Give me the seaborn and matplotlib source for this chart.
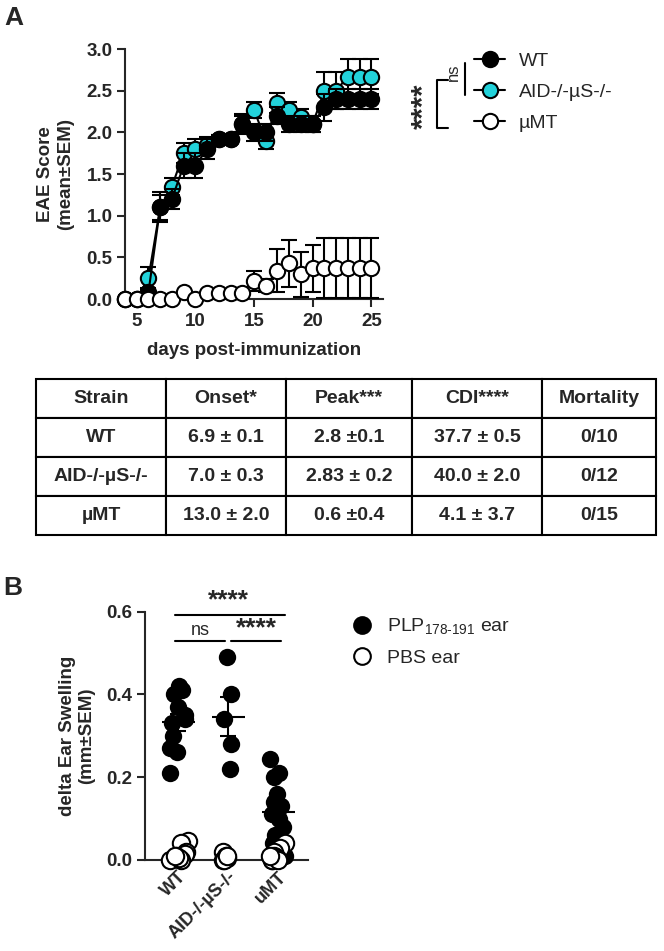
import numpy as np
import pandas as pd
import matplotlib
matplotlib.use("Agg")
import matplotlib.pyplot as plt
from matplotlib.lines import Line2D
from matplotlib.ticker import FormatStrFormatter
import seaborn as sns

# ---- Panel A data: EAE score (mean, SEM) per day ----
days = list(range(4, 26))
wt_mean = [0, 0, 0.08, 1.1, 1.2, 1.6, 1.6, 1.8, 1.92, 1.92, 2.1, 2.0, 2.0, 2.2, 2.1, 2.1, 2.1, 2.3, 2.4, 2.4, 2.4, 2.4]
wt_sem = [0, 0, 0.05, 0.18, 0.12, 0.15, 0.15, 0.12, 0.05, 0.05, 0.1, 0.1, 0.1, 0.1, 0.1, 0.1, 0.1, 0.16, 0.12, 0.12, 0.12, 0.12]
aid_mean = [0, 0, 0.25, 1.1, 1.35, 1.75, 1.8, 1.85, 1.92, 1.92, 2.1, 2.27, 1.9, 2.35, 2.27, 2.18, 2.1, 2.5, 2.5, 2.67, 2.67, 2.67]
aid_sem = [0, 0, 0.13, 0.15, 0.1, 0.12, 0.12, 0.1, 0.05, 0.05, 0.12, 0.1, 0.1, 0.12, 0.1, 0.1, 0.1, 0.22, 0.22, 0.21, 0.21, 0.21]
umt_mean = [0, 0, 0, 0, 0, 0.08, 0, 0.07, 0.07, 0.07, 0.07, 0.22, 0.16, 0.34, 0.43, 0.3, 0.37, 0.37, 0.37, 0.37, 0.37, 0.37]
umt_sem = [0, 0, 0, 0, 0, 0, 0, 0, 0, 0, 0, 0.12, 0.08, 0.26, 0.28, 0.27, 0.28, 0.36, 0.36, 0.36, 0.36, 0.36]

# ---- Table ----
table_cols = ["Strain", "Onset*", "Peak***", "CDI****", "Mortality"]
table_rows = [
    ["WT", "6.9 \u00b1 0.1", "2.8 \u00b10.1", "37.7 \u00b1 0.5", "0/10"],
    ["AID-/-\u00b5S-/-", "7.0 \u00b1 0.3", "2.83 \u00b1 0.2", "40.0 \u00b1 2.0", "0/12"],
    ["\u00b5MT", "13.0 \u00b1 2.0", "0.6 \u00b10.4", "4.1 \u00b1 3.7", "0/15"],
]

# ---- Panel B data: delta ear swelling ----
groups_b = ["WT", "AID-/-\u00b5S-/-", "uMT"]
plp_wt = [0.42, 0.41, 0.40, 0.37, 0.35, 0.34, 0.33, 0.30, 0.27, 0.26, 0.21]
plp_aid = [0.49, 0.40, 0.34, 0.28, 0.22]
plp_umt = [0.245, 0.21, 0.20, 0.16, 0.14, 0.13, 0.12, 0.11, 0.10, 0.08, 0.06, 0.04, 0.02, 0.01]
pbs_wt = [0.045, 0.04, 0.02, 0.015, 0.01, 0.0, 0.0, 0.005, 0.01]
pbs_aid = [0.02, 0.01, 0.005, 0.0, 0.0, 0.01]
pbs_umt = [0.04, 0.03, 0.02, 0.01, 0.005, 0.0, 0.0, 0.0, 0.01]

CYAN = "#22D2DA"
W, H = 664, 951

sns.set_style("ticks")
plt.rcParams["font.family"] = ["Liberation Sans", "DejaVu Sans"]
plt.rcParams["mathtext.fontset"] = "custom"
plt.rcParams["mathtext.rm"] = "Liberation Sans"
plt.rcParams["axes.linewidth"] = 1.5
plt.rcParams["xtick.major.width"] = 1.5
plt.rcParams["ytick.major.width"] = 1.5
plt.rcParams["xtick.major.size"] = 6
plt.rcParams["ytick.major.size"] = 6
plt.rcParams["xtick.major.pad"] = 4
plt.rcParams["ytick.major.pad"] = 3

fig = plt.figure(figsize=(W / 100, H / 100), dpi=100)


def fpos(x, y):
    return x / W, 1 - y / H


def fig_line(xs, ys, lw=1.5):
    fx = [x / W for x in xs]
    fy = [1 - y / H for y in ys]
    fig.add_artist(Line2D(fx, fy, transform=fig.transFigure, color="black", lw=lw))


# ================= Panel A =================
axA = fig.add_axes([125 / W, 1 - 299 / H, 258 / W, 250 / H])
d = np.array(days)
series = [
    ("AID-/-\u00b5S-/-", aid_mean, aid_sem, CYAN, 2),
    ("WT", wt_mean, wt_sem, "black", 3),
    ("\u00b5MT", umt_mean, umt_sem, "white", 4),
]
handles = {}
for name, m, s, fc, z in series:
    m = np.array(m)
    s = np.array(s)
    msk = s > 0
    axA.errorbar(d[msk], m[msk], yerr=s[msk], fmt="none", ecolor="black",
                 elinewidth=1.5, capsize=6, capthick=1.5, zorder=z, clip_on=False)
    (ln,) = axA.plot(d, m, "-o", color="black", lw=1.5, markersize=11,
                     markerfacecolor=fc, markeredgecolor="black", markeredgewidth=1.5,
                     zorder=z + 0.5, clip_on=False, label=name)
    handles[name] = ln

axA.set_xlim(4, 26)
axA.set_ylim(0, 3.0)
axA.set_xticks([5, 10, 15, 20, 25])
axA.set_yticks(np.arange(0, 3.01, 0.5))
axA.yaxis.set_major_formatter(FormatStrFormatter("%.1f"))
axA.tick_params(labelsize=13.5)
for t in axA.get_xticklabels() + axA.get_yticklabels():
    t.set_fontweight("bold")
axA.set_xlabel("days post-immunization", fontsize=13.5, fontweight="bold", labelpad=9)
axA.set_ylabel("EAE Score\n(mean\u00b1SEM)", fontsize=13.5, fontweight="bold", labelpad=9)
sns.despine(ax=axA)

leg_order = ["WT", "AID-/-\u00b5S-/-", "\u00b5MT"]
axA.legend([handles[k] for k in leg_order], leg_order, loc="upper left",
           bbox_to_anchor=fpos(474, 52), bbox_transform=fig.transFigure,
           frameon=False, fontsize=14, handlelength=1.6, handletextpad=0.7,
           labelspacing=0.7, borderpad=0, borderaxespad=0)

# significance marks
fig.text(*fpos(424, 106), "****", rotation=90, ha="center", va="center",
         fontsize=21, fontweight="bold")
fig_line([448, 437, 437, 448], [80, 80, 128, 128])
fig.text(*fpos(453, 72), "ns", rotation=90, ha="center", va="center", fontsize=12)
fig_line([465, 465], [63, 95])

fig.text(*fpos(4, 6), "A", fontsize=19, fontweight="bold", va="top", ha="left")

# ================= Table =================
axT = fig.add_axes([36 / W, 1 - 535 / H, 620 / W, 156 / H])
axT.axis("off")
widths = np.array([130, 120, 126, 130, 114], dtype=float)
tbl = axT.table(cellText=table_rows, colLabels=table_cols, cellLoc="center",
                colWidths=list(widths / widths.sum()), bbox=[0, 0, 1, 1])
tbl.auto_set_font_size(False)
tbl.set_fontsize(14)
for cell in tbl.get_celld().values():
    cell.set_linewidth(1.5)
    cell.get_text().set_fontweight("bold")

# ================= Panel B =================
axB = fig.add_axes([145 / W, 1 - 860 / H, 163 / W, 248.3 / H])
plp = pd.DataFrame({
    "group": ["WT"] * len(plp_wt) + [groups_b[1]] * len(plp_aid) + ["uMT"] * len(plp_umt),
    "swelling": plp_wt + plp_aid + plp_umt,
})
pbs = pd.DataFrame({
    "group": ["WT"] * len(pbs_wt) + [groups_b[1]] * len(pbs_aid) + ["uMT"] * len(pbs_umt),
    "swelling": pbs_wt + pbs_aid + pbs_umt,
})
np.random.seed(3)
sns.stripplot(data=plp, x="group", y="swelling", order=groups_b, color="black",
              size=12.5, jitter=0.17, ax=axB, clip_on=False, zorder=3)
sns.stripplot(data=pbs, x="group", y="swelling", order=groups_b, color="white",
              edgecolor="black", linewidth=1.5, size=12.5, jitter=0.2, ax=axB,
              clip_on=False, zorder=4)

stats = plp.groupby("group")["swelling"].agg(["mean", "sem"]).reindex(groups_b)
xs = np.arange(len(groups_b))
axB.hlines(stats["mean"], xs - 0.33, xs + 0.33, color="black", lw=1.5, zorder=5)
axB.errorbar(xs, stats["mean"], yerr=stats["sem"], fmt="none", ecolor="black",
             elinewidth=1.5, capsize=6, capthick=1.5, zorder=5)

axB.set_xlim(-0.66, 2.6)
axB.set_ylim(0, 0.6)
axB.set_yticks([0, 0.2, 0.4, 0.6])
axB.yaxis.set_major_formatter(FormatStrFormatter("%.1f"))
axB.set_xlabel("")
axB.set_ylabel("delta Ear Swelling\n(mm\u00b1SEM)", fontsize=13.5, fontweight="bold", labelpad=8)
axB.tick_params(labelsize=13.5)
axB.tick_params(axis="x", length=0, pad=6, labelsize=13)
for t in axB.get_yticklabels():
    t.set_fontweight("bold")
for t in axB.get_xticklabels():
    t.set_fontweight("bold")
    t.set_rotation(45)
    t.set_ha("right")
    t.set_rotation_mode("anchor")
sns.despine(ax=axB)

# significance bars
axB.plot([-0.06, 2.14], [0.593, 0.593], color="black", lw=1.5, clip_on=False)
axB.text(1.0, 0.598, "****", ha="center", va="bottom", fontsize=19, fontweight="bold")
axB.plot([-0.06, 0.94], [0.528, 0.528], color="black", lw=1.5, clip_on=False)
axB.text(0.44, 0.535, "ns", ha="center", va="bottom", fontsize=13)
axB.plot([1.06, 2.06], [0.528, 0.528], color="black", lw=1.5, clip_on=False)
axB.text(1.56, 0.532, "****", ha="center", va="bottom", fontsize=19, fontweight="bold")

legB = [
    Line2D([], [], ls="none", marker="o", markersize=12, markerfacecolor="black",
           markeredgecolor="black", markeredgewidth=1.5),
    Line2D([], [], ls="none", marker="o", markersize=12, markerfacecolor="white",
           markeredgecolor="black", markeredgewidth=1.5),
]
axB.legend(legB, [r"PLP$_{\mathregular{178\text{-}191}}$ ear", "PBS ear"], loc="upper left",
           bbox_to_anchor=fpos(352, 617), bbox_transform=fig.transFigure,
           frameon=False, fontsize=14, handlelength=1.0, handletextpad=0.8,
           labelspacing=0.6, borderpad=0, borderaxespad=0)

fig.text(*fpos(3, 576), "B", fontsize=19, fontweight="bold", va="top", ha="left")

fig.savefig("out.png", dpi=100)
